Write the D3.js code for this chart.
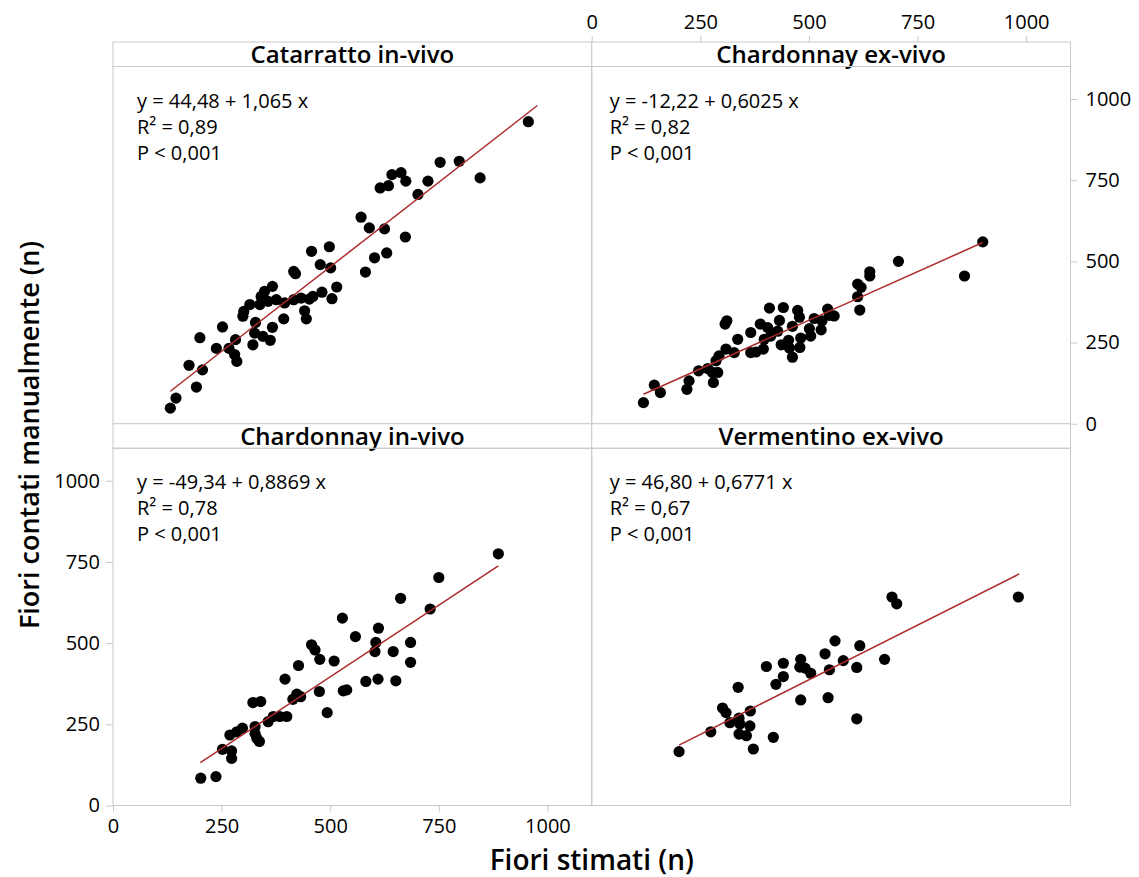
<!DOCTYPE html>
<html>
<head>
<meta charset="utf-8">
<script src="https://cdn.jsdelivr.net/npm/d3@7"></script>
<style>
  body { margin: 0; background: #fff; }
  text { font-family: "Open Sans", "Noto Sans", sans-serif; fill: #000; }
</style>
</head>
<body>
<svg id="chart" width="1139" height="877"></svg>
<script>

// ---- data ----
var panelTitles = ["Catarratto in-vivo", "Chardonnay ex-vivo", "Chardonnay in-vivo", "Vermentino ex-vivo"];

var catarrattoX = [132,145,192,175,206,200,238,252,267,280,285,282,299,301,315,322,328,326,338,341,349,345,362,367,367,357,376,395,393,416,416,420,433,441,445,452,460,457,477,481,498,501,504,515,571,581,590,602,615,625,630,634,642,663,674,673,702,725,753,797,845,956];
var catarrattoY = [48,79,113,180,166,265,232,298,232,213,192,259,331,346,367,243,312,279,367,392,408,269,257,297,423,377,382,372,323,382,469,462,387,348,323,384,392,531,490,405,545,480,385,421,636,467,603,511,726,600,526,733,767,773,747,575,706,747,805,808,757,930];

var chardExX = [119,144,158,219,224,246,267,280,278,290,286,293,309,328,307,311,336,366,366,378,388,395,397,405,409,412,428,432,436,441,453,455,462,462,474,478,481,479,501,504,512,528,530,543,547,558,612,620,612,617,640,640,706,858,900];
var chardExY = [65,119,96,106,132,163,170,127,158,158,194,209,230,219,307,317,260,281,219,221,307,230,260,296,356,270,285,318,243,358,257,233,205,300,349,328,264,235,293,270,324,289,317,353,334,332,430,420,391,350,468,455,500,455,560];

var chardInX = [202,237,252,273,273,269,285,298,322,340,327,327,331,337,357,369,384,400,396,414,423,432,427,457,465,476,475,493,509,528,530,538,558,582,603,605,610,611,645,651,662,685,685,730,750,887];
var chardInY = [84,89,173,168,145,217,227,238,317,320,243,222,207,197,258,274,274,274,389,327,343,335,431,495,479,450,351,286,445,577,353,356,520,382,474,502,389,546,474,384,638,502,441,605,702,775];

var vermX = [201,274,301,309,318,337,339,341,339,356,364,365,372,402,418,424,441,441,481,479,491,504,481,537,547,544,560,579,610,617,610,674,691,702,982];
var vermY = [166,227,300,286,255,364,269,251,220,215,245,291,174,428,210,373,397,438,450,426,423,407,325,467,418,332,507,446,425,492,267,450,642,621,642];

// fitted lines, end points as seen in the picture
var fitX = [[132, 977], [119, 900], [201, 887], [201, 984]];
var fitY = [[100, 980], [91, 558], [132, 738], [186, 713]];

var equations = ["y = 44,48 + 1,065 x", "y = -12,22 + 0,6025 x", "y = -49,34 + 0,8869 x", "y = 46,80 + 0,6771 x"];
var rSquared = ["0,89", "0,82", "0,78", "0,67"];
var pValues = ["P < 0,001", "P < 0,001", "P < 0,001", "P < 0,001"];

var tickValues = [0, 250, 500, 750, 1000];

// ---- layout ----
var gridL = 113, gridR = 1070.5, gridT = 42, gridB = 805.5;
var stripH = 24.5;
var panelW = (gridR - gridL) / 2;
var plotH = (gridB - gridT) / 2 - stripH;

var x = d3.scaleLinear().domain([0, 1102]).range([0, panelW]);
var y = d3.scaleLinear().domain([0, 1100]).range([plotH, 0]);

var gray = "#c9c9c9";
var svg = d3.select("#chart");

var panels = [
  { xs: catarrattoX, ys: catarrattoY, col: 0, row: 0, tx: 24 },
  { xs: chardExX, ys: chardExY, col: 1, row: 0, tx: 18 },
  { xs: chardInX, ys: chardInY, col: 0, row: 1, tx: 24 },
  { xs: vermX, ys: vermY, col: 1, row: 1, tx: 18 }
];

panels.forEach(function(p, i) {
  var px = gridL + p.col * panelW;
  var py = gridT + p.row * (stripH + plotH);

  // strip
  svg.append("rect")
    .attr("x", px).attr("y", py)
    .attr("width", panelW).attr("height", stripH)
    .attr("fill", "#fff").attr("stroke", gray);
  svg.append("text")
    .attr("x", px + panelW / 2).attr("y", py + stripH / 2 + 8.5)
    .attr("text-anchor", "middle")
    .style("font-size", "24px").style("font-weight", 600)
    .text(panelTitles[i]);

  var g = svg.append("g").attr("transform", "translate(" + px + "," + (py + stripH) + ")");

  g.append("rect")
    .attr("width", panelW).attr("height", plotH)
    .attr("fill", "none").attr("stroke", gray);

  var pts = p.xs.map(function(v, k) { return [v, p.ys[k]]; });

  g.selectAll("circle")
    .data(pts)
    .enter()
    .append("circle")
    .attr("cx", function(d) { return x(d[0]); })
    .attr("cy", function(d) { return y(d[1]); })
    .attr("r", 5.6)
    .attr("fill", "#000");

  g.append("line")
    .attr("x1", x(fitX[i][0])).attr("y1", y(fitY[i][0]))
    .attr("x2", x(fitX[i][1])).attr("y2", y(fitY[i][1]))
    .attr("stroke", "#ad2b2b").attr("stroke-width", 1.5);

  var t = g.append("text")
    .attr("x", p.tx).attr("y", 41)
    .style("font-size", "20px");
  t.append("tspan").attr("x", p.tx).attr("dy", 0).text(equations[i]);
  t.append("tspan").attr("x", p.tx).attr("dy", 26).text("R\u00B2 = " + rSquared[i]);
  t.append("tspan").attr("x", p.tx).attr("dy", 26).text(pValues[i]);
});

// ---- axes ----
function styleAxis(sel) {
  sel.select(".domain").remove();
  sel.selectAll(".tick line").attr("stroke", gray);
  sel.selectAll(".tick text").style("font-size", "20px").attr("fill", "#000");
}

var fmt = d3.format("d");

svg.append("g")
  .attr("transform", "translate(" + (gridL + panelW) + "," + gridT + ")")
  .call(d3.axisTop(x).tickValues(tickValues).tickFormat(fmt).tickSize(6).tickPadding(7))
  .call(styleAxis);

svg.append("g")
  .attr("transform", "translate(" + gridL + "," + gridB + ")")
  .call(d3.axisBottom(x).tickValues(tickValues).tickFormat(fmt).tickSize(6).tickPadding(7))
  .call(styleAxis);

svg.append("g")
  .attr("transform", "translate(" + gridR + "," + (gridT + stripH) + ")")
  .call(d3.axisRight(y).tickValues(tickValues).tickFormat(fmt).tickSize(7).tickPadding(8))
  .call(styleAxis);

svg.append("g")
  .attr("transform", "translate(" + gridL + "," + (gridT + 2 * stripH + plotH) + ")")
  .call(d3.axisLeft(y).tickValues(tickValues).tickFormat(fmt).tickSize(7).tickPadding(6))
  .call(styleAxis);

// axis titles
svg.append("text")
  .attr("x", gridL + panelW).attr("y", 870)
  .attr("text-anchor", "middle")
  .style("font-size", "28px").style("font-weight", 600)
  .text("Fiori stimati (n)");

svg.append("text")
  .attr("transform", "translate(39,435) rotate(-90)")
  .attr("text-anchor", "middle")
  .style("font-size", "27px").style("font-weight", 600)
  .text("Fiori contati manualmente (n)");

</script>
</body>
</html>
